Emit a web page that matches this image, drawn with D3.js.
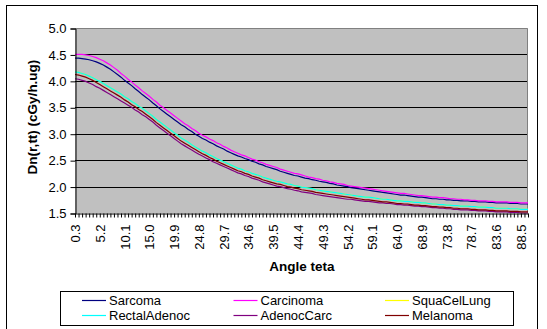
<!DOCTYPE html>
<html>
<head>
<meta charset="utf-8">
<script src="https://cdn.jsdelivr.net/npm/d3@7"></script>
<style>
  body { margin: 0; background: #fff; }
  svg { display: block; font-family: Arial, "Liberation Sans", sans-serif; }
</style>
</head>
<body>
<div id="chart"></div>
<script>
// angle categories (degrees)
const angles = [0.3,1.0,1.7,2.4,3.1,3.8,4.5,5.2,5.9,6.6,7.3,8.0,8.7,9.4,10.1,10.8,11.5,12.2,12.9,13.6,14.3,15.0,15.7,16.4,17.1,17.8,18.5,19.2,19.9,20.6,21.3,22.0,22.7,23.4,24.1,24.8,25.5,26.2,26.9,27.6,28.3,29.0,29.7,30.4,31.1,31.8,32.5,33.2,33.9,34.6,35.3,36.0,36.7,37.4,38.1,38.8,39.5,40.2,40.9,41.6,42.3,43.0,43.7,44.4,45.1,45.8,46.5,47.2,47.9,48.6,49.3,50.0,50.7,51.4,52.1,52.8,53.5,54.2,54.9,55.6,56.3,57.0,57.7,58.4,59.1,59.8,60.5,61.2,61.9,62.6,63.3,64.0,64.7,65.4,66.1,66.8,67.5,68.2,68.9,69.6,70.3,71.0,71.7,72.4,73.1,73.8,74.5,75.2,75.9,76.6,77.3,78.0,78.7,79.4,80.1,80.8,81.5,82.2,82.9,83.6,84.3,85.0,85.7,86.4,87.1,87.8,88.5,89.2,89.9];

const sarcoma = [4.43,4.43,4.42,4.41,4.40,4.38,4.36,4.33,4.30,4.26,4.22,4.17,4.12,4.07,4.01,3.96,
  3.91,3.85,3.80,3.74,3.69, 3.64,3.58,3.53,3.47,3.42, 3.37,3.32,3.27,3.22,3.17, 3.13,3.08,3.04,2.99,2.95,
  2.91,2.88,2.84,2.81,2.77, 2.74,2.71,2.67,2.64,2.61, 2.58,2.56,2.53,2.51,2.48, 2.46,2.43,2.41,2.38,2.36,
  2.34,2.32,2.29,2.27,2.25, 2.23,2.21,2.20,2.18,2.16, 2.15,2.13,2.12,2.10,2.09, 2.08,2.06,2.05,2.03,2.02,
  2.01,2.00,1.98,1.97,1.96, 1.95,1.94,1.93,1.92,1.91, 1.90,1.89,1.88,1.87,1.86, 1.85,1.84,1.84,1.83,1.82,
  1.81,1.80,1.80,1.79,1.78, 1.77,1.77,1.76,1.76,1.75, 1.75,1.74,1.74,1.73,1.73, 1.73,1.72,1.72,1.71,1.71,
  1.71,1.70,1.70,1.69,1.69, 1.69,1.69,1.68,1.68,1.68, 1.67,1.67,1.67];

const carcinoma = [4.50,4.50,4.50,4.49,4.48,4.46,4.44,4.41,4.38,4.34,4.30,4.25,4.20,4.14,4.09,4.03,
  3.98,3.92,3.87,3.81,3.76, 3.71,3.65,3.60,3.54,3.49, 3.44,3.39,3.34,3.29,3.24, 3.19,3.15,3.10,3.06,3.01,
  2.97,2.94,2.90,2.87,2.83, 2.80,2.76,2.73,2.69,2.66, 2.63,2.60,2.58,2.55,2.52, 2.50,2.47,2.45,2.42,2.40,
  2.38,2.36,2.33,2.31,2.29, 2.27,2.25,2.24,2.22,2.20, 2.18,2.17,2.15,2.14,2.12, 2.11,2.09,2.08,2.06,2.05,
  2.04,2.02,2.01,2.00,1.99, 1.98,1.97,1.96,1.95,1.94, 1.93,1.92,1.91,1.90,1.89, 1.88,1.87,1.87,1.86,1.85,
  1.84,1.83,1.83,1.82,1.81, 1.80,1.80,1.79,1.79,1.78, 1.77,1.77,1.76,1.76,1.75, 1.75,1.74,1.74,1.73,1.73,
  1.73,1.72,1.72,1.71,1.71, 1.71,1.71,1.70,1.70,1.70, 1.69,1.69,1.69];

const squaCelLung = [4.17,4.16,4.14,4.12,4.09,4.06,4.02,3.99,3.95,3.91,3.87,3.83,3.79,3.75,3.70,3.66,
  3.61,3.57,3.52,3.48,3.43, 3.38,3.33,3.27,3.22,3.17, 3.12,3.07,3.02,2.97,2.92, 2.88,2.84,2.79,2.75,2.71,
  2.67,2.64,2.60,2.57,2.53, 2.50,2.47,2.44,2.41,2.38, 2.35,2.33,2.30,2.28,2.25, 2.23,2.21,2.18,2.16,2.14,
  2.12,2.10,2.09,2.07,2.05, 2.04,2.02,2.01,1.99,1.98, 1.97,1.96,1.94,1.93,1.92, 1.91,1.90,1.89,1.88,1.87,
  1.86,1.85,1.84,1.83,1.82, 1.81,1.80,1.80,1.79,1.78, 1.77,1.76,1.76,1.75,1.74, 1.73,1.73,1.72,1.72,1.71,
  1.70,1.70,1.69,1.69,1.68, 1.67,1.67,1.66,1.66,1.65, 1.65,1.64,1.64,1.63,1.63, 1.63,1.62,1.62,1.61,1.61,
  1.61,1.60,1.60,1.59,1.59, 1.59,1.59,1.58,1.58,1.58, 1.57,1.57,1.57];

const rectalAdenoc = [4.17,4.16,4.14,4.12,4.09,4.06,4.02,3.99,3.95,3.91,3.87,3.83,3.79,3.75,3.70,3.66,
  3.61,3.57,3.52,3.48,3.43, 3.38,3.33,3.27,3.22,3.17, 3.12,3.07,3.02,2.97,2.92, 2.88,2.84,2.79,2.75,2.71,
  2.67,2.64,2.60,2.57,2.53, 2.50,2.47,2.44,2.41,2.38, 2.35,2.33,2.30,2.28,2.25, 2.23,2.21,2.18,2.16,2.14,
  2.12,2.10,2.09,2.07,2.05, 2.04,2.02,2.01,1.99,1.98, 1.97,1.96,1.94,1.93,1.92, 1.91,1.90,1.89,1.88,1.87,
  1.86,1.85,1.84,1.83,1.82, 1.81,1.80,1.80,1.79,1.78, 1.77,1.76,1.76,1.75,1.74, 1.73,1.73,1.72,1.72,1.71,
  1.70,1.70,1.69,1.69,1.68, 1.67,1.67,1.66,1.66,1.65, 1.65,1.64,1.64,1.63,1.63, 1.63,1.62,1.62,1.61,1.61,
  1.61,1.60,1.60,1.59,1.59, 1.59,1.59,1.58,1.58,1.58, 1.57,1.57,1.57];

const adenocCarc = [4.04,4.03,4.01,3.99,3.96,3.93,3.89,3.86,3.82,3.78,3.74,3.70,3.66,3.62,3.58,3.54,
  3.50,3.45,3.41,3.36,3.32, 3.27,3.22,3.16,3.11,3.06, 3.01,2.96,2.91,2.86,2.81, 2.77,2.73,2.69,2.65,2.61,
  2.58,2.54,2.51,2.47,2.44, 2.41,2.38,2.35,2.32,2.29, 2.26,2.24,2.21,2.19,2.16, 2.14,2.12,2.09,2.07,2.05,
  2.03,2.01,2.00,1.98,1.96, 1.95,1.93,1.92,1.90,1.89, 1.88,1.87,1.85,1.84,1.83, 1.82,1.81,1.80,1.79,1.78,
  1.77,1.76,1.76,1.75,1.74, 1.73,1.72,1.72,1.71,1.70, 1.69,1.69,1.68,1.68,1.67, 1.66,1.66,1.65,1.65,1.64,
  1.63,1.63,1.62,1.62,1.61, 1.60,1.60,1.59,1.59,1.58, 1.58,1.57,1.57,1.56,1.56, 1.56,1.55,1.55,1.54,1.54,
  1.54,1.53,1.53,1.52,1.52, 1.52,1.52,1.51,1.51,1.51, 1.50,1.50,1.50];

const melanoma = [4.12,4.11,4.09,4.07,4.04,4.01,3.97,3.93,3.89,3.85,3.81,3.77,3.73,3.69,3.64,3.60,
  3.55,3.51,3.46,3.42,3.37, 3.32,3.27,3.21,3.16,3.11, 3.06,3.01,2.96,2.91,2.86, 2.82,2.78,2.74,2.70,2.66,
  2.62,2.59,2.55,2.52,2.48, 2.45,2.42,2.39,2.36,2.33, 2.30,2.28,2.25,2.23,2.20, 2.18,2.16,2.13,2.11,2.09,
  2.07,2.05,2.04,2.02,2.00, 1.99,1.97,1.96,1.94,1.93, 1.92,1.91,1.89,1.88,1.87, 1.86,1.85,1.84,1.83,1.82,
  1.81,1.80,1.79,1.78,1.77, 1.76,1.75,1.75,1.74,1.73, 1.72,1.71,1.71,1.70,1.69, 1.68,1.68,1.67,1.67,1.66,
  1.65,1.65,1.64,1.64,1.63, 1.62,1.62,1.61,1.61,1.60, 1.60,1.59,1.59,1.58,1.58, 1.58,1.57,1.57,1.56,1.56,
  1.56,1.55,1.55,1.54,1.54, 1.54,1.54,1.53,1.53,1.53, 1.52,1.52,1.52];

const seriesNames = ["Sarcoma", "Carcinoma", "SquaCelLung", "RectalAdenoc", "AdenocCarc", "Melanoma"];
const seriesValues = [sarcoma, carcinoma, squaCelLung, rectalAdenoc, adenocCarc, melanoma];
const seriesColors = ["#000080", "#ff00ff", "#ffff00", "#00ffff", "#800080", "#800000"];
const yTicks = [1.5, 2.0, 2.5, 3.0, 3.5, 4.0, 4.5, 5.0];

const fmt = d3.format(".1f");
const labels = angles.map(a => fmt(a));

const svg = d3.select("#chart").append("svg")
    .attr("width", 547)
    .attr("height", 329);

svg.append("rect")
    .attr("x", 6.5).attr("y", 5.5)
    .attr("width", 531).attr("height", 324)
    .attr("fill", "#fff").attr("stroke", "#000");

const x = d3.scalePoint().domain(labels).range([75, 528]);
const y = d3.scaleLinear().domain([1.5, 5]).range([213, 28]);

// plot area
svg.append("rect")
    .attr("x", 75).attr("y", 28)
    .attr("width", 453).attr("height", 185)
    .attr("fill", "#c0c0c0");

svg.append("g").selectAll("line")
    .data(yTicks.filter(t => t > 1.5 && t < 5))
    .enter().append("line")
        .attr("x1", 75).attr("x2", 528)
        .attr("y1", d => Math.round(y(d)) + 0.5)
        .attr("y2", d => Math.round(y(d)) + 0.5)
        .attr("stroke", "#000");

svg.append("path")
    .attr("d", "M75.5,28.5H527.5V213")
    .attr("fill", "none").attr("stroke", "#808080");

// lines
const line = d3.line()
    .x((d, i) => x(labels[i]))
    .y(d => y(d));

seriesValues.forEach(function(vals, k) {
    svg.append("path")
        .datum(vals)
        .attr("d", line)
        .attr("fill", "none")
        .attr("stroke", seriesColors[k])
        .attr("stroke-width", 1.2);
});

// y axis
const yAxis = svg.append("g")
    .attr("transform", "translate(75.5,0.5)")
    .call(d3.axisLeft(y).tickValues(yTicks).tickFormat(fmt).tickSize(5).tickPadding(4));
yAxis.selectAll("text").attr("font-size", 13).attr("fill", "#000").attr("font-family", "Arial, 'Liberation Sans', sans-serif");
yAxis.selectAll("line, path").attr("stroke", "#000");

// x axis
const xAxis = svg.append("g")
    .attr("transform", "translate(0,213.5)")
    .call(d3.axisBottom(x).tickSize(4).tickSizeOuter(0)
        .tickFormat((d, i) => i % 7 === 0 ? d : ""));
xAxis.selectAll("line, path").attr("stroke", "#000");
xAxis.selectAll("text")
    .attr("font-size", 13).attr("fill", "#000")
    .attr("font-family", "Arial, 'Liberation Sans', sans-serif")
    .attr("transform", "rotate(-90)")
    .attr("text-anchor", "end")
    .attr("x", -11).attr("y", 0).attr("dy", "0.35em");

// axis titles
svg.append("text")
    .attr("x", 302).attr("y", 271)
    .attr("text-anchor", "middle")
    .attr("font-size", 13.5).attr("font-weight", "bold")
    .text("Angle teta");

svg.append("text")
    .attr("transform", "translate(37,117) rotate(-90)")
    .attr("text-anchor", "middle")
    .attr("font-size", 13.5).attr("font-weight", "bold")
    .text("Dn(r,tt) (cGy/h.ug)");

// legend
const legend = svg.append("g");
legend.append("rect")
    .attr("x", 60.5).attr("y", 291.5)
    .attr("width", 453).attr("height", 34)
    .attr("fill", "#fff").attr("stroke", "#000");

const legendItems = legend.selectAll("g.item")
    .data(seriesNames)
    .enter().append("g")
        .attr("transform", (d, i) => "translate(" + (82 + (i % 3) * 151.5) + "," + (300 + Math.floor(i / 3) * 15) + ")");
legendItems.append("line")
    .attr("x1", 0).attr("x2", 24).attr("y1", 0.5).attr("y2", 0.5)
    .attr("stroke", (d, i) => seriesColors[i]).attr("stroke-width", 1.2);
legendItems.append("text")
    .attr("x", 27).attr("y", 0).attr("dy", "0.36em")
    .attr("font-size", 13)
    .text(d => d);
</script>
</body>
</html>
